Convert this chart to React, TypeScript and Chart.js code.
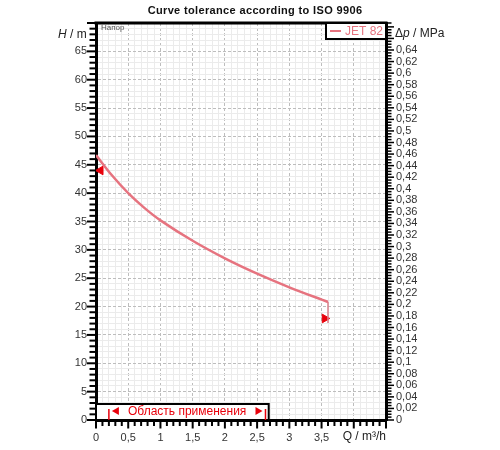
import React, { useEffect, useRef } from 'react';
import { Chart, registerables } from 'chart.js';

Chart.register(...registerables);

// ---- data ----
const flowQ = [0, 0.25, 0.5, 0.75, 1, 1.5, 2, 2.5, 3, 3.6];
const headH = [46.7, 43.1, 40.0, 37.4, 35.2, 31.6, 28.5, 25.8, 23.4, 20.8];
const endDropQ = [3.6, 3.6];
const endDropH = [20.8, 17.1];
const tolQ = [0.07, 3.55];
const tolH = [44.0, 17.9];
const tolRotation = [-90, 90];
const appRangeQ = [0.2, 2.63];
const appBoxQ = [0, 2.68];
const xLabelTicks = [0, 0.5, 1, 1.5, 2, 2.5, 3, 3.5];
const yLabelTicks = [0, 5, 10, 15, 20, 25, 30, 35, 40, 45, 50, 55, 60, 65];
const pLabelTicks = [
  0, 0.02, 0.04, 0.06, 0.08, 0.1, 0.12, 0.14, 0.16, 0.18, 0.2, 0.22, 0.24, 0.26, 0.28, 0.3,
  0.32, 0.34, 0.36, 0.38, 0.4, 0.42, 0.44, 0.46, 0.48, 0.5, 0.52, 0.54, 0.56, 0.58, 0.6, 0.62, 0.64,
];
const Q_MAX = 4.5;
const H_MAX = 70;
const MPA_PER_M = 0.00981;

const titleText = 'Curve tolerance according to ISO 9906';
const seriesName = 'JET 82';
const curveLabel = 'Напор';
const appRangeText = 'Область применения';

const CURVE_COLOR = '#e6737f';
const RED = '#e8000b';
const FONT = '"Liberation Sans", Arial, sans-serif';

const near = (a: number, b: number) => Math.abs(a - b) < 1e-7;
const isMult = (v: number, s: number) => near(v / s, Math.round(v / s));
const fmt = (v: number) => String(Number(v.toFixed(3))).replace('.', ',');
const labelFrom = (list: number[]) => (v: any) => {
  const n = Number(v);
  return list.some((l) => near(l, n)) ? fmt(n) : '';
};

const decorPlugin = {
  id: 'decor',
  afterDraw(chart: any) {
    const { ctx, chartArea: a, scales } = chart;
    const xs = scales.x, ys = scales.y, ps = scales.y2;
    ctx.save();

    // top frame
    ctx.strokeStyle = '#000';
    ctx.lineWidth = 3;
    ctx.beginPath();
    ctx.moveTo(a.left - 1.5, a.top);
    ctx.lineTo(a.right + 1.5, a.top);
    ctx.stroke();

    // tick marks
    const seg = (x1: number, y1: number, x2: number, y2: number) => {
      ctx.beginPath();
      ctx.moveTo(x1, y1);
      ctx.lineTo(x2, y2);
      ctx.stroke();
    };
    ctx.lineWidth = 2;
    xs.ticks.forEach((t: any) => {
      const px = xs.getPixelForValue(t.value);
      const len = isMult(t.value, 0.5) ? 7.5 : 5;
      seg(px, a.bottom + 1, px, a.bottom + 1 + len);
    });
    ys.ticks.forEach((t: any) => {
      const py = ys.getPixelForValue(t.value);
      const len = isMult(t.value, 5) ? 8 : 5.5;
      seg(a.left - 1, py, a.left - 1 - len, py);
    });
    ctx.lineWidth = 1.5;
    ps.ticks.forEach((t: any) => {
      const py = ps.getPixelForValue(t.value);
      const len = isMult(t.value, 0.02) ? 7 : 4.5;
      seg(a.right + 1, py, a.right + 1 + len, py);
    });

    // title
    ctx.fillStyle = '#111';
    ctx.font = `bold 11px ${FONT}`;
    ctx.textAlign = 'center';
    ctx.textBaseline = 'middle';
    try { (ctx as any).letterSpacing = '0.35px'; } catch (e) {}
    ctx.fillText(titleText, 255, 11);
    try { (ctx as any).letterSpacing = '0px'; } catch (e) {}

    // axis titles
    ctx.fillStyle = '#222';
    ctx.textAlign = 'left';
    const parts = (x: number, y: number, segs: [string, boolean][]) => {
      let cx = x;
      segs.forEach(([s, it]) => {
        ctx.font = `${it ? 'italic ' : ''}12px ${FONT}`;
        ctx.fillText(s, cx, y);
        cx += ctx.measureText(s).width;
      });
    };
    parts(a.left - 38, a.top + 12, [['H', true], [' / m', false]]);
    parts(a.right + 9, a.top + 11, [['Δ', false], ['p', true], [' / MPa', false]]);
    ctx.font = `12px ${FONT}`;
    ctx.textAlign = 'right';
    ctx.fillText('Q / m³/h', a.right, a.bottom + 17);

    // curve label
    ctx.textAlign = 'left';
    ctx.fillStyle = '#555';
    ctx.font = `8px ${FONT}`;
    ctx.fillText(curveLabel, a.left + 5, a.top + 5);

    // legend box
    const lx1 = a.right - 60, ly1 = a.top, ly2 = a.top + 16;
    ctx.fillStyle = '#fff';
    ctx.fillRect(lx1, ly1, a.right - lx1, ly2 - ly1);
    ctx.strokeStyle = '#000';
    ctx.lineWidth = 2;
    ctx.strokeRect(lx1, ly1, a.right - lx1, ly2 - ly1);
    ctx.strokeStyle = CURVE_COLOR;
    ctx.lineWidth = 2;
    seg(lx1 + 4, ly1 + 8, lx1 + 15, ly1 + 8);
    ctx.fillStyle = CURVE_COLOR;
    ctx.font = `12px ${FONT}`;
    ctx.fillText(seriesName, lx1 + 19, ly1 + 8.5);

    // application range box
    const bx1 = xs.getPixelForValue(appBoxQ[0]);
    const bx2 = xs.getPixelForValue(appBoxQ[1]);
    const by1 = a.bottom - 16;
    ctx.fillStyle = '#fff';
    ctx.fillRect(bx1, by1, bx2 - bx1, a.bottom - by1);
    ctx.strokeStyle = '#000';
    ctx.lineWidth = 2;
    ctx.strokeRect(bx1, by1, bx2 - bx1, a.bottom - by1);
    ctx.strokeStyle = RED;
    ctx.lineWidth = 1.5;
    const r1 = xs.getPixelForValue(appRangeQ[0]);
    const r2 = xs.getPixelForValue(appRangeQ[1]);
    seg(r1, a.bottom - 11, r1, a.bottom);
    seg(r2, a.bottom - 11, r2, a.bottom);
    const ym = a.bottom - 9;
    ctx.fillStyle = RED;
    ctx.beginPath();
    ctx.moveTo(r1 + 3, ym);
    ctx.lineTo(r1 + 10, ym - 4);
    ctx.lineTo(r1 + 10, ym + 4);
    ctx.closePath();
    ctx.fill();
    ctx.beginPath();
    ctx.moveTo(r2 - 3, ym);
    ctx.lineTo(r2 - 10, ym - 4);
    ctx.lineTo(r2 - 10, ym + 4);
    ctx.closePath();
    ctx.fill();
    ctx.font = `12px ${FONT}`;
    ctx.textAlign = 'center';
    ctx.fillText(appRangeText, (r1 + r2) / 2, ym + 0.5);

    ctx.restore();
  },
};

export default function App() {
  const ref = useRef<HTMLCanvasElement | null>(null);

  useEffect(() => {
    if (!ref.current) return;
    Chart.defaults.font.family = FONT;
    const chart = new Chart(ref.current, {
      type: 'line',
      data: {
        datasets: [
          {
            label: seriesName,
            data: flowQ.map((q, i) => ({ x: q, y: headH[i] })),
            borderColor: CURVE_COLOR,
            borderWidth: 2.5,
            pointRadius: 0,
            tension: 0.35,
            yAxisID: 'y',
          },
          {
            label: 'drop',
            data: endDropQ.map((q, i) => ({ x: q, y: endDropH[i] })),
            borderColor: '#d9808a',
            borderWidth: 1.5,
            pointRadius: 0,
            yAxisID: 'y',
          },
          {
            label: 'tolerance',
            data: tolQ.map((q, i) => ({ x: q, y: tolH[i] })),
            showLine: false,
            pointStyle: 'triangle',
            pointRotation: tolRotation,
            pointRadius: 5,
            backgroundColor: RED,
            borderColor: RED,
            borderWidth: 1,
            yAxisID: 'y',
          },
        ] as any,
      },
      options: {
        animation: false,
        responsive: false,
        layout: { padding: { top: 23, left: 0, right: 0, bottom: 0 } },
        plugins: {
          legend: { display: false },
          title: { display: false },
          tooltip: { enabled: false },
        },
        scales: {
          x: {
            type: 'linear',
            position: 'bottom',
            min: 0,
            max: Q_MAX,
            ticks: {
              stepSize: 0.1,
              autoSkip: false,
              maxRotation: 0,
              minRotation: 0,
              padding: 11,
              color: '#333',
              font: { size: 11, family: FONT },
              callback: labelFrom(xLabelTicks),
            },
            grid: {
              drawTicks: false,
              lineWidth: 1,
              color: (c: any) => (c.tick && isMult(c.tick.value, 0.5) ? '#bdbdbd' : '#ebebeb'),
            },
            border: {
              color: '#000',
              width: 3,
              dash: (c: any) => (c.tick && isMult(c.tick.value, 0.5) ? [3, 2] : []),
            },
            afterFit: (s: any) => {
              s.height = 30;
            },
          },
          y: {
            type: 'linear',
            position: 'left',
            min: 0,
            max: H_MAX,
            ticks: {
              stepSize: 1,
              autoSkip: false,
              padding: 9,
              color: '#333',
              font: { size: 11, family: FONT },
              callback: labelFrom(yLabelTicks),
            },
            grid: {
              drawTicks: false,
              lineWidth: 1,
              color: (c: any) => (c.tick && isMult(c.tick.value, 5) ? '#bdbdbd' : '#ebebeb'),
            },
            border: {
              color: '#000',
              width: 3,
              dash: (c: any) => (c.tick && isMult(c.tick.value, 5) ? [3, 2] : []),
            },
            afterFit: (s: any) => {
              s.width = 96;
            },
          },
          y2: {
            type: 'linear',
            position: 'right',
            min: 0,
            max: H_MAX * MPA_PER_M,
            ticks: {
              stepSize: 0.005,
              autoSkip: false,
              padding: 10,
              color: '#333',
              font: { size: 11, family: FONT },
              callback: labelFrom(pLabelTicks),
            },
            grid: { drawTicks: false, drawOnChartArea: false },
            border: { color: '#000', width: 3 },
            afterFit: (s: any) => {
              s.width = 114;
            },
          },
        },
      } as any,
      plugins: [decorPlugin],
    });
    return () => chart.destroy();
  }, []);

  return (
    <div style={{ position: 'absolute', left: 0, top: 0, width: 500, height: 450, background: '#fff' }}>
      <canvas ref={ref} width={500} height={450} />
    </div>
  );
}
